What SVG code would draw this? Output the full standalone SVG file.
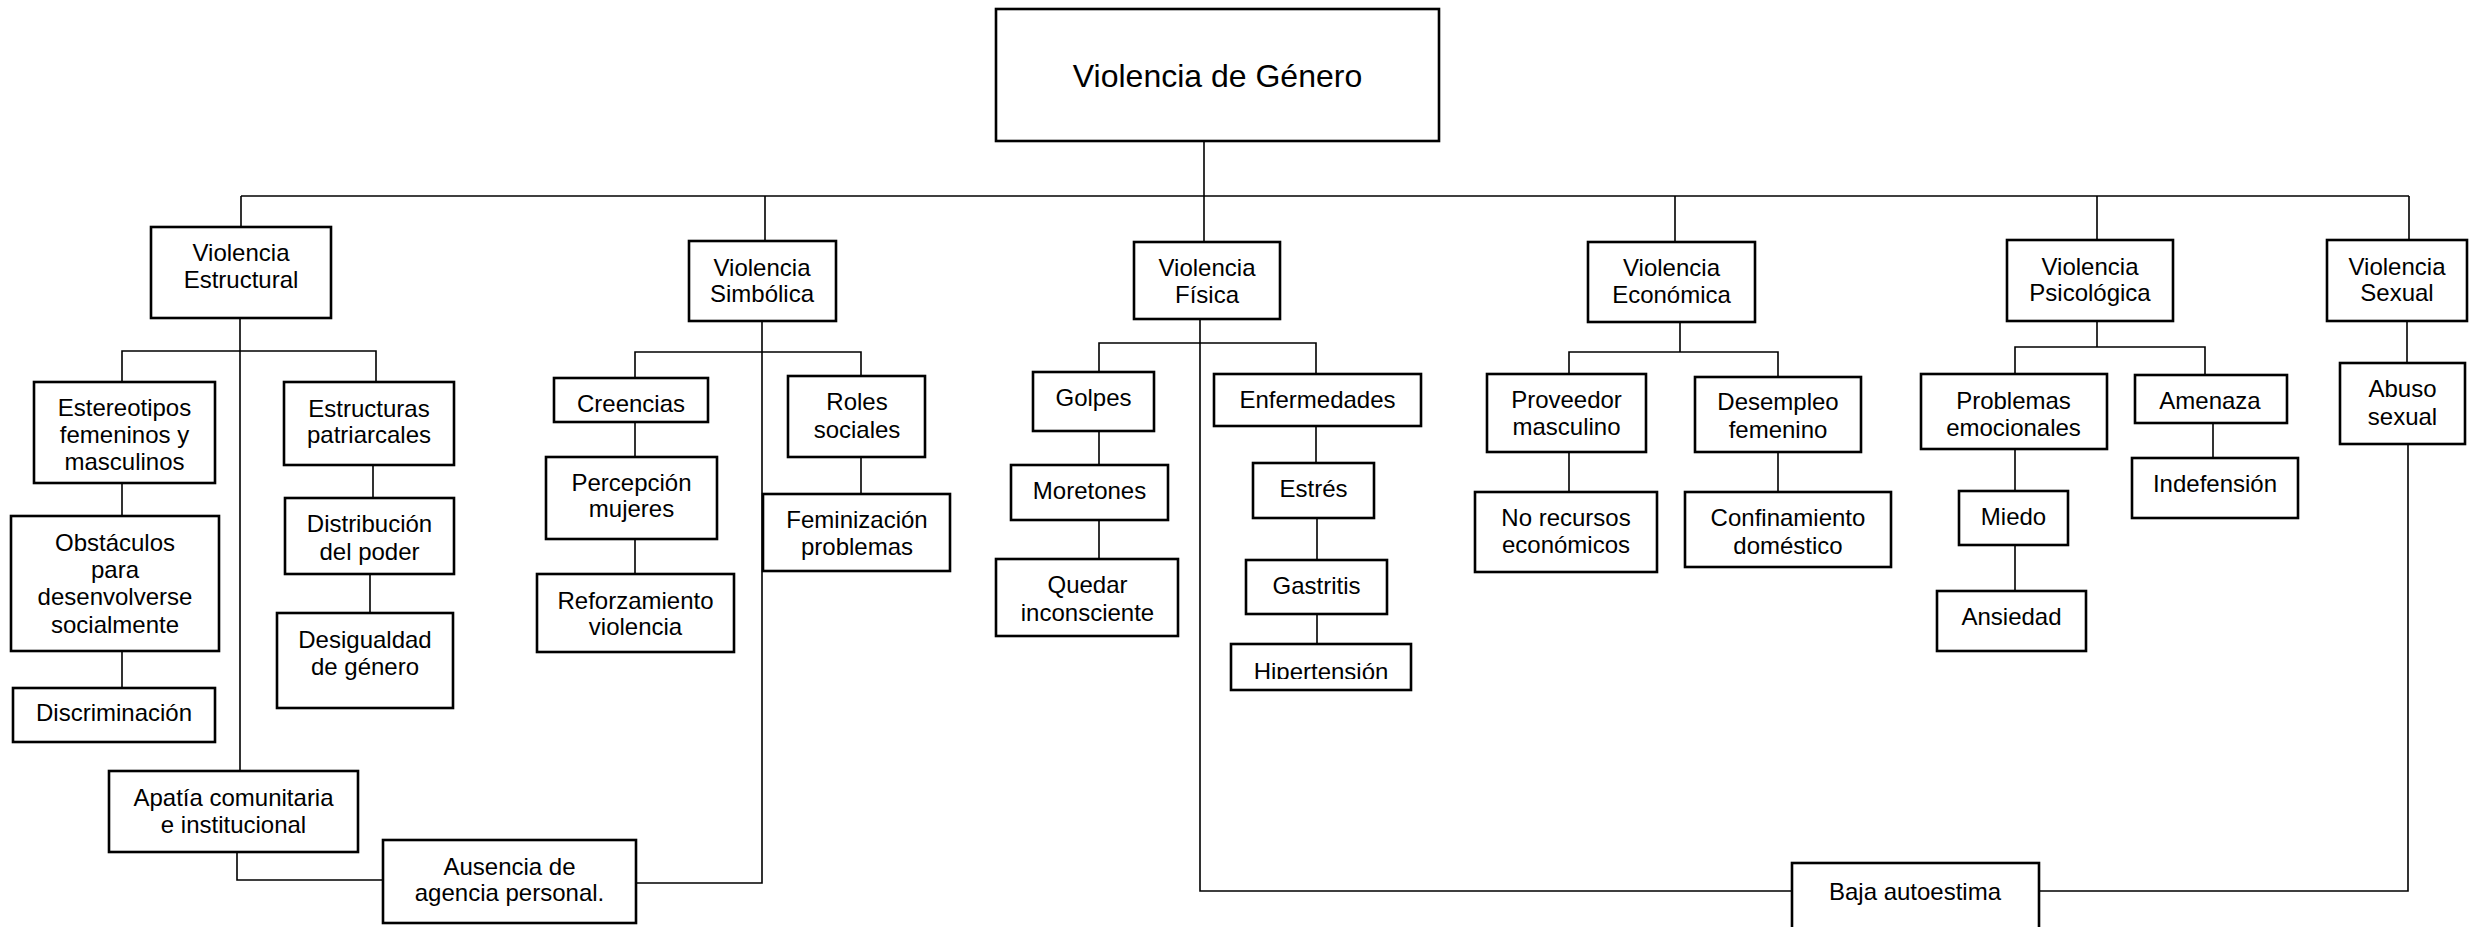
<svg xmlns="http://www.w3.org/2000/svg" width="2483" height="927" viewBox="0 0 2483 927">
<style>
  .box { fill: #ffffff; stroke: #000000; stroke-width: 2.6; }
  .lbl { font-family: "Liberation Sans", Arial, sans-serif; font-size: 24px; fill: #000000; text-anchor: middle; }
  .title { font-size: 32px; }
  .conn path { fill: none; stroke: #000000; stroke-width: 1.6; }
</style>
<defs>
  <clipPath id="clipHip"><rect x="1231" y="644" width="180" height="35"/></clipPath>
</defs>
<rect x="0" y="0" width="2483" height="927" fill="#ffffff"/>

<g id="connectors" class="conn">
  <path d="M1204,141 V242"/>
  <path d="M241,196 H2409"/>
  <path d="M241,196 V227 M765,196 V241 M1675,196 V242 M2097,196 V240 M2409,196 V240"/>
  <!-- Estructural -->
  <path d="M240,318 V771"/>
  <path d="M122,382 V351 H376 V382"/>
  <path d="M122,483 V516 M122,651 V688"/>
  <path d="M373,465 V498 M370,574 V613"/>
  <path d="M237,852 V880 H383"/>
  <!-- Simbolica -->
  <path d="M636,883 H762 V321"/>
  <path d="M635,378 V352 H861 V376"/>
  <path d="M635,422 V457 M635,539 V574"/>
  <path d="M861,457 V494"/>
  <!-- Fisica -->
  <path d="M1200,319 V891 H1792"/>
  <path d="M1099,372 V343 H1316 V374"/>
  <path d="M1099,431 V465 M1099,520 V559"/>
  <path d="M1316,426 V463 M1317,518 V560 M1317,614 V644"/>
  <!-- Economica -->
  <path d="M1680,322 V352"/>
  <path d="M1569,374 V352 H1778 V377"/>
  <path d="M1569,452 V492 M1778,452 V492"/>
  <!-- Psicologica -->
  <path d="M2097,321 V347"/>
  <path d="M2015,374 V347 H2205 V375"/>
  <path d="M2015,449 V491 M2015,545 V591"/>
  <path d="M2213,423 V458"/>
  <!-- Sexual -->
  <path d="M2407,321 V363"/>
  <path d="M2408,444 V891 H2039"/>
</g>

<g id="violencia-genero">
  <rect class="box" x="996" y="9" width="443" height="132"/>
  <text class="lbl title" x="1217.5" y="87">Violencia de Género</text>
</g>

<g id="violencia-estructural">
  <rect class="box" x="151" y="227" width="180" height="91"/>
  <text class="lbl" x="241" y="261">Violencia</text>
  <text class="lbl" x="241" y="288">Estructural</text>
</g>
<g id="violencia-simbolica">
  <rect class="box" x="689" y="241" width="147" height="80"/>
  <text class="lbl" x="762" y="276">Violencia</text>
  <text class="lbl" x="762" y="302">Simbólica</text>
</g>
<g id="violencia-fisica">
  <rect class="box" x="1134" y="242" width="146" height="77"/>
  <text class="lbl" x="1207" y="276">Violencia</text>
  <text class="lbl" x="1207" y="303">Física</text>
</g>
<g id="violencia-economica">
  <rect class="box" x="1588" y="242" width="167" height="80"/>
  <text class="lbl" x="1671.5" y="276">Violencia</text>
  <text class="lbl" x="1671.5" y="303">Económica</text>
</g>
<g id="violencia-psicologica">
  <rect class="box" x="2007" y="240" width="166" height="81"/>
  <text class="lbl" x="2090" y="275">Violencia</text>
  <text class="lbl" x="2090" y="301">Psicológica</text>
</g>
<g id="violencia-sexual">
  <rect class="box" x="2327" y="240" width="140" height="81"/>
  <text class="lbl" x="2397" y="275">Violencia</text>
  <text class="lbl" x="2397" y="301">Sexual</text>
</g>

<g id="estereotipos">
  <rect class="box" x="34" y="382" width="181" height="101"/>
  <text class="lbl" x="124.5" y="416">Estereotipos</text>
  <text class="lbl" x="124.5" y="443">femeninos y</text>
  <text class="lbl" x="124.5" y="470">masculinos</text>
</g>
<g id="obstaculos">
  <rect class="box" x="11" y="516" width="208" height="135"/>
  <text class="lbl" x="115" y="551">Obstáculos</text>
  <text class="lbl" x="115" y="578">para</text>
  <text class="lbl" x="115" y="605">desenvolverse</text>
  <text class="lbl" x="115" y="633">socialmente</text>
</g>
<g id="discriminacion">
  <rect class="box" x="13" y="688" width="202" height="54"/>
  <text class="lbl" x="114" y="721">Discriminación</text>
</g>
<g id="estructuras-patriarcales">
  <rect class="box" x="284" y="382" width="170" height="83"/>
  <text class="lbl" x="369" y="417">Estructuras</text>
  <text class="lbl" x="369" y="443">patriarcales</text>
</g>
<g id="distribucion-poder">
  <rect class="box" x="285" y="498" width="169" height="76"/>
  <text class="lbl" x="369.5" y="532">Distribución</text>
  <text class="lbl" x="369.5" y="560">del poder</text>
</g>
<g id="desigualdad-genero">
  <rect class="box" x="277" y="613" width="176" height="95"/>
  <text class="lbl" x="365" y="648">Desigualdad</text>
  <text class="lbl" x="365" y="675">de género</text>
</g>
<g id="apatia">
  <rect class="box" x="109" y="771" width="249" height="81"/>
  <text class="lbl" x="233.5" y="806">Apatía comunitaria</text>
  <text class="lbl" x="233.5" y="833">e institucional</text>
</g>
<g id="ausencia-agencia">
  <rect class="box" x="383" y="840" width="253" height="83"/>
  <text class="lbl" x="509.5" y="875">Ausencia de</text>
  <text class="lbl" x="509.5" y="901">agencia personal.</text>
</g>

<g id="creencias">
  <rect class="box" x="554" y="378" width="154" height="44"/>
  <text class="lbl" x="631" y="412">Creencias</text>
</g>
<g id="percepcion-mujeres">
  <rect class="box" x="546" y="457" width="171" height="82"/>
  <text class="lbl" x="631.5" y="491">Percepción</text>
  <text class="lbl" x="631.5" y="517">mujeres</text>
</g>
<g id="reforzamiento-violencia">
  <rect class="box" x="537" y="574" width="197" height="78"/>
  <text class="lbl" x="635.5" y="609">Reforzamiento</text>
  <text class="lbl" x="635.5" y="635">violencia</text>
</g>
<g id="roles-sociales">
  <rect class="box" x="788" y="376" width="137" height="81"/>
  <text class="lbl" x="857" y="410">Roles</text>
  <text class="lbl" x="857" y="438">sociales</text>
</g>
<g id="feminizacion-problemas">
  <rect class="box" x="763" y="494" width="187" height="77"/>
  <text class="lbl" x="857" y="528">Feminización</text>
  <text class="lbl" x="857" y="555">problemas</text>
</g>

<g id="golpes">
  <rect class="box" x="1033" y="372" width="121" height="59"/>
  <text class="lbl" x="1093.5" y="406">Golpes</text>
</g>
<g id="moretones">
  <rect class="box" x="1011" y="465" width="157" height="55"/>
  <text class="lbl" x="1089.5" y="499">Moretones</text>
</g>
<g id="quedar-inconsciente">
  <rect class="box" x="996" y="559" width="182" height="77"/>
  <text class="lbl" x="1087.5" y="593">Quedar</text>
  <text class="lbl" x="1087.5" y="621">inconsciente</text>
</g>
<g id="enfermedades">
  <rect class="box" x="1214" y="374" width="207" height="52"/>
  <text class="lbl" x="1317.5" y="408">Enfermedades</text>
</g>
<g id="estres">
  <rect class="box" x="1253" y="463" width="121" height="55"/>
  <text class="lbl" x="1313.5" y="497">Estrés</text>
</g>
<g id="gastritis">
  <rect class="box" x="1246" y="560" width="141" height="54"/>
  <text class="lbl" x="1316.5" y="594">Gastritis</text>
</g>
<g id="hipertension">
  <rect class="box" x="1231" y="644" width="180" height="46"/>
  <text class="lbl" x="1321" y="680" clip-path="url(#clipHip)">Hipertensión</text>
</g>

<g id="proveedor-masculino">
  <rect class="box" x="1487" y="374" width="159" height="78"/>
  <text class="lbl" x="1566.5" y="408">Proveedor</text>
  <text class="lbl" x="1566.5" y="435">masculino</text>
</g>
<g id="no-recursos">
  <rect class="box" x="1475" y="492" width="182" height="80"/>
  <text class="lbl" x="1566" y="526">No recursos</text>
  <text class="lbl" x="1566" y="553">económicos</text>
</g>
<g id="desempleo-femenino">
  <rect class="box" x="1695" y="377" width="166" height="75"/>
  <text class="lbl" x="1778" y="410">Desempleo</text>
  <text class="lbl" x="1778" y="438">femenino</text>
</g>
<g id="confinamiento-domestico">
  <rect class="box" x="1685" y="492" width="206" height="75"/>
  <text class="lbl" x="1788" y="526">Confinamiento</text>
  <text class="lbl" x="1788" y="554">doméstico</text>
</g>

<g id="problemas-emocionales">
  <rect class="box" x="1921" y="374" width="186" height="75"/>
  <text class="lbl" x="2013.5" y="409">Problemas</text>
  <text class="lbl" x="2013.5" y="436">emocionales</text>
</g>
<g id="miedo">
  <rect class="box" x="1959" y="491" width="109" height="54"/>
  <text class="lbl" x="2013.5" y="525">Miedo</text>
</g>
<g id="ansiedad">
  <rect class="box" x="1937" y="591" width="149" height="60"/>
  <text class="lbl" x="2011.5" y="625">Ansiedad</text>
</g>
<g id="amenaza">
  <rect class="box" x="2135" y="375" width="152" height="48"/>
  <text class="lbl" x="2210" y="409">Amenaza</text>
</g>
<g id="indefension">
  <rect class="box" x="2132" y="458" width="166" height="60"/>
  <text class="lbl" x="2215" y="492">Indefensión</text>
</g>

<g id="abuso-sexual">
  <rect class="box" x="2340" y="363" width="125" height="81"/>
  <text class="lbl" x="2402.5" y="397">Abuso</text>
  <text class="lbl" x="2402.5" y="425">sexual</text>
</g>

<g id="baja-autoestima">
  <rect class="box" x="1792" y="863" width="247" height="80"/>
  <text class="lbl" x="1915" y="900">Baja autoestima</text>
</g>
</svg>
